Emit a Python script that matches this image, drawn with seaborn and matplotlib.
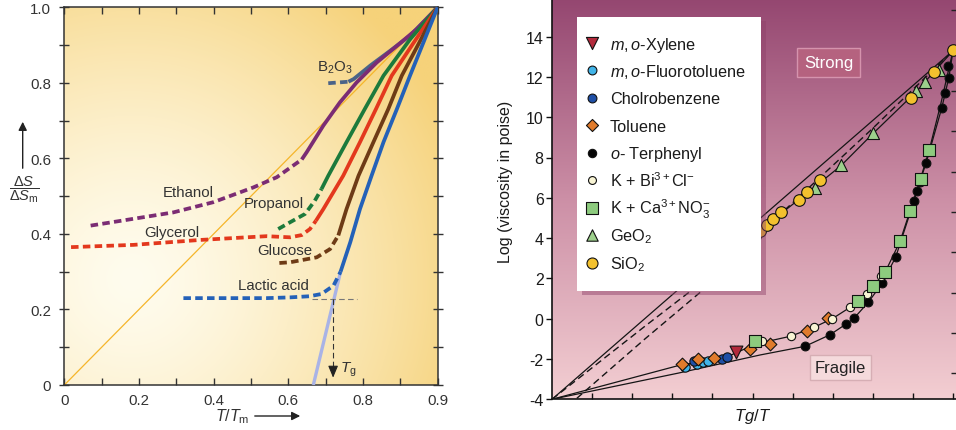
import numpy as np
import matplotlib
matplotlib.use("Agg")
import matplotlib.pyplot as plt
import seaborn as sns
from matplotlib.colors import to_rgb
from matplotlib.patches import Rectangle

# ---------------- LEFT PANEL DATA (T/Tm , dS/dSm) ----------------
diag_x = [0.0, 1.0]
diag_y = [0.0, 1.0]

eth_dash_x = [0.0705, 0.185, 0.292, 0.399, 0.506, 0.569, 0.636]
eth_dash_y = [0.422, 0.440, 0.457, 0.484, 0.523, 0.550, 0.597]
eth_x = [0.636, 0.649, 0.694, 0.738, 0.783, 0.837, 0.891, 0.945, 1.0]
eth_y = [0.597, 0.616, 0.687, 0.748, 0.801, 0.854, 0.898, 0.943, 1.0]

b2o3_dash_x = [0.707, 0.761]
b2o3_dash_y = [0.799, 0.803]
b2o3_x = [0.761, 0.775, 0.820, 0.873, 0.926, 1.0]
b2o3_y = [0.803, 0.810, 0.846, 0.885, 0.925, 1.0]

prop_dash_x = [0.573, 0.605, 0.645, 0.671, 0.689]
prop_dash_y = [0.413, 0.431, 0.453, 0.488, 0.519]
prop_x = [0.689, 0.707, 0.756, 0.805, 0.855, 0.926, 1.0]
prop_y = [0.519, 0.554, 0.643, 0.731, 0.819, 0.915, 1.0]

gly_dash_x = [0.018, 0.185, 0.363, 0.542, 0.605, 0.636, 0.658, 0.674]
gly_dash_y = [0.365, 0.371, 0.384, 0.394, 0.391, 0.397, 0.413, 0.435]
gly_x = [0.674, 0.694, 0.747, 0.792, 0.835, 0.877, 0.935, 1.0]
gly_y = [0.435, 0.466, 0.554, 0.643, 0.731, 0.819, 0.905, 1.0]

glu_dash_x = [0.576, 0.605, 0.676, 0.712, 0.734]
glu_dash_y = [0.323, 0.325, 0.338, 0.360, 0.396]
glu_x = [0.734, 0.756, 0.788, 0.828, 0.868, 0.904, 0.950, 1.0]
glu_y = [0.396, 0.466, 0.554, 0.643, 0.731, 0.819, 0.905, 1.0]

lac_dash_x = [0.319, 0.542, 0.605, 0.657, 0.689, 0.721, 0.740]
lac_dash_y = [0.230, 0.230, 0.232, 0.235, 0.241, 0.263, 0.300]
lac_x = [0.740, 0.766, 0.792, 0.823, 0.855, 0.891, 0.926, 0.962, 1.0]
lac_y = [0.300, 0.378, 0.466, 0.554, 0.643, 0.731, 0.819, 0.907, 1.0]

ext_x = [0.667, 0.740]
ext_y = [0.0, 0.300]

tg_x = 0.72
tg_y = 0.228
kauz_x = [0.6625, 0.783]

curve_labels = ["B$_2$O$_3$", "Ethanol", "Propanol", "Glycerol", "Glucose", "Lactic acid"]
label_x = [0.725, 0.332, 0.56, 0.2875, 0.591, 0.56]
label_y = [0.842, 0.512, 0.482, 0.406, 0.358, 0.265]

left_xticks = [0, 0.2, 0.4, 0.6, 0.8, 1.0]
left_xticklabels = ["0", "0.2", "0.4", "0.6", "0.8", "0.9"]
left_yticks = [0, 0.2, 0.4, 0.6, 0.8, 1.0]
left_yticklabels = ["0", "0.2", "0.4", "0.6", "0.8", "1.0"]

# ---------------- RIGHT PANEL DATA (Tg/T , log viscosity) ----------------
strong_x = [0.0, 1.0]
strong_y = [-4.0, 13.3]
dashA_x = [0.0, 0.232, 0.431, 0.6, 0.8, 1.0]
dashA_y = [-4.0, -0.37, 2.68, 5.75, 9.45, 13.3]
dashB_x = [0.062, 0.232, 0.431, 0.52]
dashB_y = [-3.95, -1.0, 2.34, 3.9]
lowsolid_x = [0.37, 0.506, 0.57, 0.656, 0.721, 0.801, 0.905, 1.0]
lowsolid_y = [1.55, 4.0, 5.2, 6.55, 7.6, 9.2, 11.2, 13.3]
fragU_x = [0.0, 0.32, 0.43, 0.509, 0.595, 0.653, 0.699, 0.743, 0.785, 0.831, 0.868, 0.893, 0.919, 0.941, 0.97, 1.0]
fragU_y = [-4.0, -2.3, -1.95, -1.25, -0.87, -0.43, 0.0, 0.56, 1.22, 2.32, 3.84, 5.36, 6.95, 8.39, 10.7, 13.3]
fragL_x = [0.0, 0.315, 0.519, 0.631, 0.693, 0.733, 0.753, 0.789, 0.822, 0.857, 0.903, 0.917, 0.933, 0.972, 0.99, 1.0]
fragL_y = [-4.0, -2.7, -1.8, -1.37, -0.8, -0.27, 0.02, 0.82, 1.72, 3.05, 5.86, 6.78, 7.73, 10.46, 12.0, 13.3]

xylene_x = [0.458]
xylene_y = [-1.66]
fluoro_x = [0.332, 0.361, 0.376, 0.390]
fluoro_y = [-2.41, -2.26, -2.17, -2.12]
chloro_x = [0.353, 0.423, 0.436]
chloro_y = [-2.12, -1.98, -1.92]
toluene_x = [0.323, 0.365, 0.404, 0.494, 0.544, 0.635, 0.688]
toluene_y = [-2.26, -2.0, -1.93, -1.49, -1.28, -0.6, 0.05]
terph_x = [0.631, 0.693, 0.733, 0.753, 0.789, 0.822, 0.857, 0.903, 0.910, 0.917, 0.933, 0.972, 0.981, 0.990, 0.988]
terph_y = [-1.37, -0.79, -0.26, 0.03, 0.83, 1.75, 3.05, 5.86, 6.32, 6.78, 7.73, 10.46, 11.2, 11.95, 12.53]
kbi_x = [0.523, 0.595, 0.653, 0.699, 0.743, 0.785, 0.820]
kbi_y = [-1.10, -0.87, -0.43, 0.0, 0.56, 1.22, 2.10]
kca_x = [0.506, 0.762, 0.800, 0.831, 0.868, 0.893, 0.919, 0.941]
kca_y = [-1.09, 0.89, 1.60, 2.32, 3.84, 5.36, 6.95, 8.39]
geo2_x = [0.656, 0.721, 0.801, 0.907, 0.931, 0.964]
geo2_y = [6.48, 7.62, 9.22, 11.30, 11.75, 12.36]
sio2_x = [0.506, 0.519, 0.535, 0.552, 0.570, 0.617, 0.637, 0.668, 0.896, 0.953, 1.0]
sio2_y = [4.10, 4.35, 4.65, 4.95, 5.29, 5.90, 6.29, 6.87, 10.95, 12.24, 13.33]

series_labels = [r"$\it{m,o}$-Xylene", r"$\it{m,o}$-Fluorotoluene", "Cholrobenzene",
                 "Toluene", r"$\it{o}$- Terphenyl", r"K + Bi$^{3+}$Cl$^{-}$",
                 r"K + Ca$^{3+}$NO$_3^{-}$", r"GeO$_2$", r"SiO$_2$"]

right_yticks = list(range(-4, 15, 2))

# ---------------- STYLE ----------------
sns.set_theme(style="ticks")
plt.rcParams["font.family"] = ["Liberation Sans", "DejaVu Sans"]
plt.rcParams["mathtext.fontset"] = "custom"
plt.rcParams["mathtext.rm"] = "Liberation Sans"
plt.rcParams["mathtext.it"] = "Liberation Sans:italic"
plt.rcParams["mathtext.bf"] = "Liberation Sans:bold"
plt.rcParams["axes.unicode_minus"] = False

W, H = 956, 431
fig = plt.figure(figsize=(W / 100, H / 100), dpi=100)
fig.patch.set_facecolor("white")


def fx(px):
    return px / W


def fy(py):
    return 1 - py / H


def line(ax, x, y, color, lw, ls="-", z=3):
    sns.lineplot(x=x, y=y, ax=ax, color=color, linewidth=lw, linestyle=ls,
                 sort=False, estimator=None, zorder=z,
                 solid_capstyle="butt", dash_capstyle="butt", solid_joinstyle="round")


# ================= LEFT PANEL =================
axL = fig.add_axes([64.33 / W, (H - 386) / H, 373.3 / W, 377.7 / H])
gx, gy = np.meshgrid(np.linspace(0, 1, 300), np.linspace(0, 1, 300))
d = np.sqrt((gx - 0.18) ** 2 + (gy - 0.28) ** 2)
t = np.clip(d / 0.95, 0, 1) ** 1.4
pale = np.array(to_rgb("#FFFCEE"))
gold = np.array(to_rgb("#F6D27A"))
img = pale * (1 - t[..., None]) + gold * t[..., None]
axL.imshow(img, extent=[0, 1, 0, 1], origin="lower", aspect="auto", zorder=0)

line(axL, diag_x, diag_y, "#F5B52A", 0.9, z=2)
LW = 2.7
DASH = (0, (2.0, 1.15))
line(axL, ext_x, ext_y, "#A9B3E6", 2.4, z=3)
for dx, dy, sx, sy, c in [
    (b2o3_dash_x, b2o3_dash_y, b2o3_x, b2o3_y, "#4A6388"),
    (eth_dash_x, eth_dash_y, eth_x, eth_y, "#7B2C74"),
    (prop_dash_x, prop_dash_y, prop_x, prop_y, "#1C7A3C"),
    (gly_dash_x, gly_dash_y, gly_x, gly_y, "#E3381D"),
    (glu_dash_x, glu_dash_y, glu_x, glu_y, "#6E3B16"),
    (lac_dash_x, lac_dash_y, lac_x, lac_y, "#2461B8"),
]:
    line(axL, dx, dy, c, LW, DASH, z=4)
    line(axL, sx, sy, c, LW, "-", z=4)

# Kauzmann / Tg construction
axL.plot(kauz_x, [tg_y, tg_y], color="#777777", lw=0.8, ls=(0, (5, 3)), zorder=5)
axL.plot([tg_x, tg_x], [tg_y, 0.04], color="#333333", lw=0.8, ls=(0, (5, 3)), zorder=5)
axL.annotate("", xy=(tg_x, 0.012), xytext=(tg_x, 0.045),
             arrowprops=dict(arrowstyle="-|>,head_length=0.6,head_width=0.25",
                             color="#222222", lw=0.8), zorder=6)
axL.text(tg_x + 0.04, 0.042, r"$T_\mathrm{g}$", fontsize=11, ha="center",
         va="center", color="#333333")

for s, lx, ly in zip(curve_labels, label_x, label_y):
    axL.text(lx, ly, s, fontsize=10.8, ha="center", va="center", color="#333333", zorder=7)

axL.set_xlim(0, 1)
axL.set_ylim(0, 1)
axL.set_xticks(left_xticks)
axL.set_xticklabels(left_xticklabels)
axL.set_yticks(left_yticks)
axL.set_yticklabels(left_yticklabels)
axL.set_xticks(np.arange(0.1, 1.0, 0.2), minor=True)
axL.set_yticks(np.arange(0.1, 1.0, 0.2), minor=True)
axL.tick_params(which="both", direction="in", top=True, right=True, length=5,
                width=1.0, color="#333333", labelsize=10.8, labelcolor="#333333", pad=6)
axL.tick_params(axis="y", which="both", direction="inout", length=7)
axL.tick_params(axis="y", which="both", right=True)
for sp in axL.spines.values():
    sp.set_color("#333333")
    sp.set_linewidth(1.1)
    sp.set_visible(True)
axL.set_xlabel("")
axL.set_ylabel("")

# left axis labels with arrows (figure coords)
fig.text(fx(232), fy(417), r"$T/T_\mathrm{m}$", fontsize=11.5, ha="center", va="center",
         color="#333333")
fig.add_artist(matplotlib.patches.FancyArrowPatch(
    (fx(252), fy(417)), (fx(303), fy(417)), transform=fig.transFigure,
    arrowstyle="-|>,head_length=5,head_width=2.5", color="#222222", lw=1.0))
fig.add_artist(matplotlib.patches.FancyArrowPatch(
    (fx(22.7), fy(172)), (fx(22.7), fy(120)), transform=fig.transFigure,
    arrowstyle="-|>,head_length=5,head_width=2.5", color="#222222", lw=1.0))
fig.text(fx(24), fy(190), r"$\dfrac{\Delta S}{\Delta S_\mathrm{m}}$", fontsize=10.5,
         ha="center", va="center", color="#333333")

# ================= RIGHT PANEL =================
XMAX = 1.012
YTOP = 15.95
axR = fig.add_axes([552 / W, 30.7 / H, XMAX * 401 / W, (YTOP + 4) * 20.15 / H])
gyy = np.linspace(0, 1, 400)[:, None]
stops = [0.0, 0.5, 1.0]
cols = [to_rgb("#F3CED2"), to_rgb("#CC8FA6"), to_rgb("#944670")]
grad = np.stack([np.interp(gyy, stops, [c[i] for c in cols]) for i in range(3)], axis=-1)
grad = np.repeat(grad, 4, axis=1)
axR.imshow(grad, extent=[0, XMAX, -4, YTOP], origin="lower", aspect="auto", zorder=0)

BL = "#151515"
line(axR, strong_x, strong_y, BL, 0.9, z=3)
line(axR, dashA_x, dashA_y, BL, 1.0, (0, (5, 3)), z=3)
line(axR, dashB_x, dashB_y, BL, 1.0, (0, (5, 3)), z=3)
line(axR, lowsolid_x, lowsolid_y, BL, 0.9, z=3)
line(axR, fragU_x, fragU_y, BL, 0.9, z=3)
line(axR, fragL_x, fragL_y, BL, 0.9, z=3)

styles = [
    (xylene_x, xylene_y, "v", "#B22A3C", 85),
    (fluoro_x, fluoro_y, "o", "#41B4E8", 45),
    (chloro_x, chloro_y, "o", "#1F4FA6", 45),
    (toluene_x, toluene_y, "D", "#E07B2C", 42),
    (terph_x, terph_y, "o", "#050505", 40),
    (kbi_x, kbi_y, "o", "#F8F4D4", 36),
    (kca_x, kca_y, "s", "#8DCB7E", 75),
    (geo2_x, geo2_y, "^", "#9DD08C", 75),
    (sio2_x, sio2_y, "o", "#F3C12E", 70),
]
for sx, sy, m, c, s in styles:
    sns.scatterplot(x=sx, y=sy, ax=axR, marker=m, color=c, s=s, edgecolor="#111111",
                    linewidth=0.8, zorder=5, legend=False)

axR.text(0.69, 12.72, "Strong", fontsize=12, color="white", ha="center", va="center",
         zorder=6, bbox=dict(boxstyle="square,pad=0.42", fc="#B5627F", ec="#D593AD", lw=1.0))
axR.text(0.719, -2.43, "Fragile", fontsize=12, color="#222222", ha="center", va="center",
         zorder=6, bbox=dict(boxstyle="square,pad=0.28", fc="#F5DADC", ec="#D6AEB4", lw=1.0))

# legend box (manual, figure coords)
shadow = Rectangle((fx(582), fy(296)), fx(184), 274 / H, transform=fig.transFigure,
                   fc="#8E4068", ec="none", alpha=0.45, zorder=7)
box = Rectangle((fx(577), fy(292)), fx(184), 274 / H, transform=fig.transFigure,
                fc="white", ec="none", zorder=8)
axR.add_patch(shadow)
axR.add_patch(box)
for i, ((sx, sy, m, c, s), lab) in enumerate(zip(styles, series_labels)):
    ry = 44 + 27.45 * i
    axR.scatter([fx(591.7)], [fy(ry)], transform=fig.transFigure, marker=m, color=c,
                s=s * 0.9, edgecolor="#111111", linewidth=0.8, zorder=9)
    axR.text(fx(610), fy(ry + 5.6), lab, transform=fig.transFigure, fontsize=11.7,
             color="#1a1a1a", ha="left", va="baseline", zorder=9)

axR.set_xlim(0, XMAX)
axR.set_ylim(-4, YTOP)
axR.set_xticks(np.arange(0.1, 1.01, 0.1))
axR.set_xticklabels([])
axR.set_yticks(right_yticks)
axR.set_yticklabels([str(v) for v in right_yticks])
axR.tick_params(axis="x", direction="in", length=4, width=1.0, color="#111111")
axR.tick_params(axis="y", direction="out", length=4, width=1.0, color="#111111",
                labelsize=11.5, labelcolor="#1a1a1a", pad=2)
for k in ["top", "right"]:
    axR.spines[k].set_visible(False)
for k in ["left", "bottom"]:
    axR.spines[k].set_color("#111111")
    axR.spines[k].set_linewidth(1.2)
sec = axR.secondary_yaxis("right", functions=(lambda v: v + 0.7, lambda v: v - 0.7))
sec.set_yticks(list(range(-2, 17, 2)))
sec.set_yticklabels([])
sec.tick_params(direction="in", length=5, width=1.0, color="#222222")
sec.spines["right"].set_color("#222222")

axR.set_xlabel(r"$Tg/T$", fontsize=12, color="#1a1a1a", va="center")
axR.xaxis.set_label_coords((753 - 552) / (XMAX * 401), -(417 - 400.3) / ((YTOP + 4) * 20.15))
axR.set_ylabel("Log (viscosity in poise)", fontsize=11.5, color="#1a1a1a")
axR.yaxis.set_label_coords((513 - 552) / (XMAX * 401), (400.3 - 182) / ((YTOP + 4) * 20.15))

fig.savefig("out.png", dpi=100, facecolor="white")
